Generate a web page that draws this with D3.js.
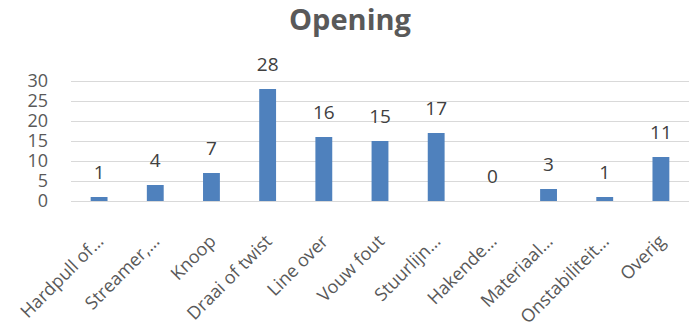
<!DOCTYPE html>
<html>
<head>
<meta charset="utf-8">
<script src="https://cdn.jsdelivr.net/npm/d3@7"></script>
<style>
  body { margin: 0; background: #fff; }
  svg { display: block; font-family: "Open Sans", sans-serif; }
</style>
</head>
<body>
<div id="chart"></div>
<script>
// chart data
var categories = ["Hardpull of\u2026", "Streamer,\u2026", "Knoop", "Draai of twist", "Line over", "Vouw fout",
    "Stuurlijn\u2026", "Hakende\u2026", "Materiaal\u2026", "Onstabiliteit\u2026", "Overig"];
var counts = [1, 4, 7, 28, 16, 15, 17, 0, 3, 1, 11];
var yTicks = [0, 5, 10, 15, 20, 25, 30];
var title = "Opening";

var width = 698, height = 327;
var margin = {top: 81, right: 9, bottom: 126, left: 71};
var plotW = width - margin.left - margin.right,
    plotH = height - margin.top - margin.bottom;

var data = categories.map(function(c, i){ return {name: c, count: counts[i]}; });

var svg = d3.select("#chart")
    .append("svg")
    .attr("width", width)
    .attr("height", height);

svg.append("text")
    .attr("x", width / 2 + 1)
    .attr("y", 30)
    .attr("text-anchor", "middle")
    .attr("font-size", 29)
    .attr("font-weight", "bold")
    .attr("fill", "#595959")
    .text(title);

var x = d3.scaleBand()
    .domain(categories)
    .range([0, plotW])
    .paddingInner(0.7)
    .paddingOuter(0.35);

var y = d3.scaleLinear()
    .domain([0, 30])
    .range([plotH, 0]);

var g = svg.append("g")
    .attr("transform", "translate(" + margin.left + "," + margin.top + ")");

// gridlines
g.append("g")
    .selectAll("line")
    .data(yTicks).enter()
    .append("line")
    .attr("x1", 0)
    .attr("x2", plotW)
    .attr("y1", function(d){ return Math.round(y(d)) + 0.5; })
    .attr("y2", function(d){ return Math.round(y(d)) + 0.5; })
    .attr("stroke", "#d9d9d9")
    .attr("stroke-width", 1);

// y axis labels
var yAxis = g.append("g")
    .call(d3.axisLeft(y).tickValues(yTicks).tickSize(0).tickPadding(23));
yAxis.select(".domain").remove();
yAxis.selectAll("text")
    .attr("font-size", 18)
    .attr("font-family", "Open Sans, sans-serif")
    .attr("fill", "#595959");

// bars
g.append("g")
    .selectAll("rect")
    .data(data).enter()
    .append("rect")
    .attr("x", function(d){ return x(d.name); })
    .attr("width", x.bandwidth())
    .attr("y", function(d){ return y(d.count); })
    .attr("height", function(d){ return plotH - y(d.count); })
    .attr("fill", "#4f81bd");

// value labels
g.append("g")
    .selectAll("text")
    .data(data).enter()
    .append("text")
    .attr("x", function(d){ return x(d.name) + x.bandwidth() / 2; })
    .attr("y", function(d){ return y(d.count) - 18; })
    .attr("text-anchor", "middle")
    .attr("font-size", 19)
    .attr("fill", "#404040")
    .text(function(d){ return d.count; });

// x axis labels, rotated
var xAxis = g.append("g")
    .attr("transform", "translate(0," + plotH + ")")
    .call(d3.axisBottom(x).tickSize(0));
xAxis.select(".domain").remove();
xAxis.selectAll("text")
    .attr("font-size", 18)
    .attr("font-family", "Open Sans, sans-serif")
    .attr("fill", "#595959")
    .attr("text-anchor", "end")
    .attr("y", 0)
    .attr("dy", "0.35em")
    .attr("transform", "translate(1,37) rotate(-45)");
</script>
</body>
</html>
